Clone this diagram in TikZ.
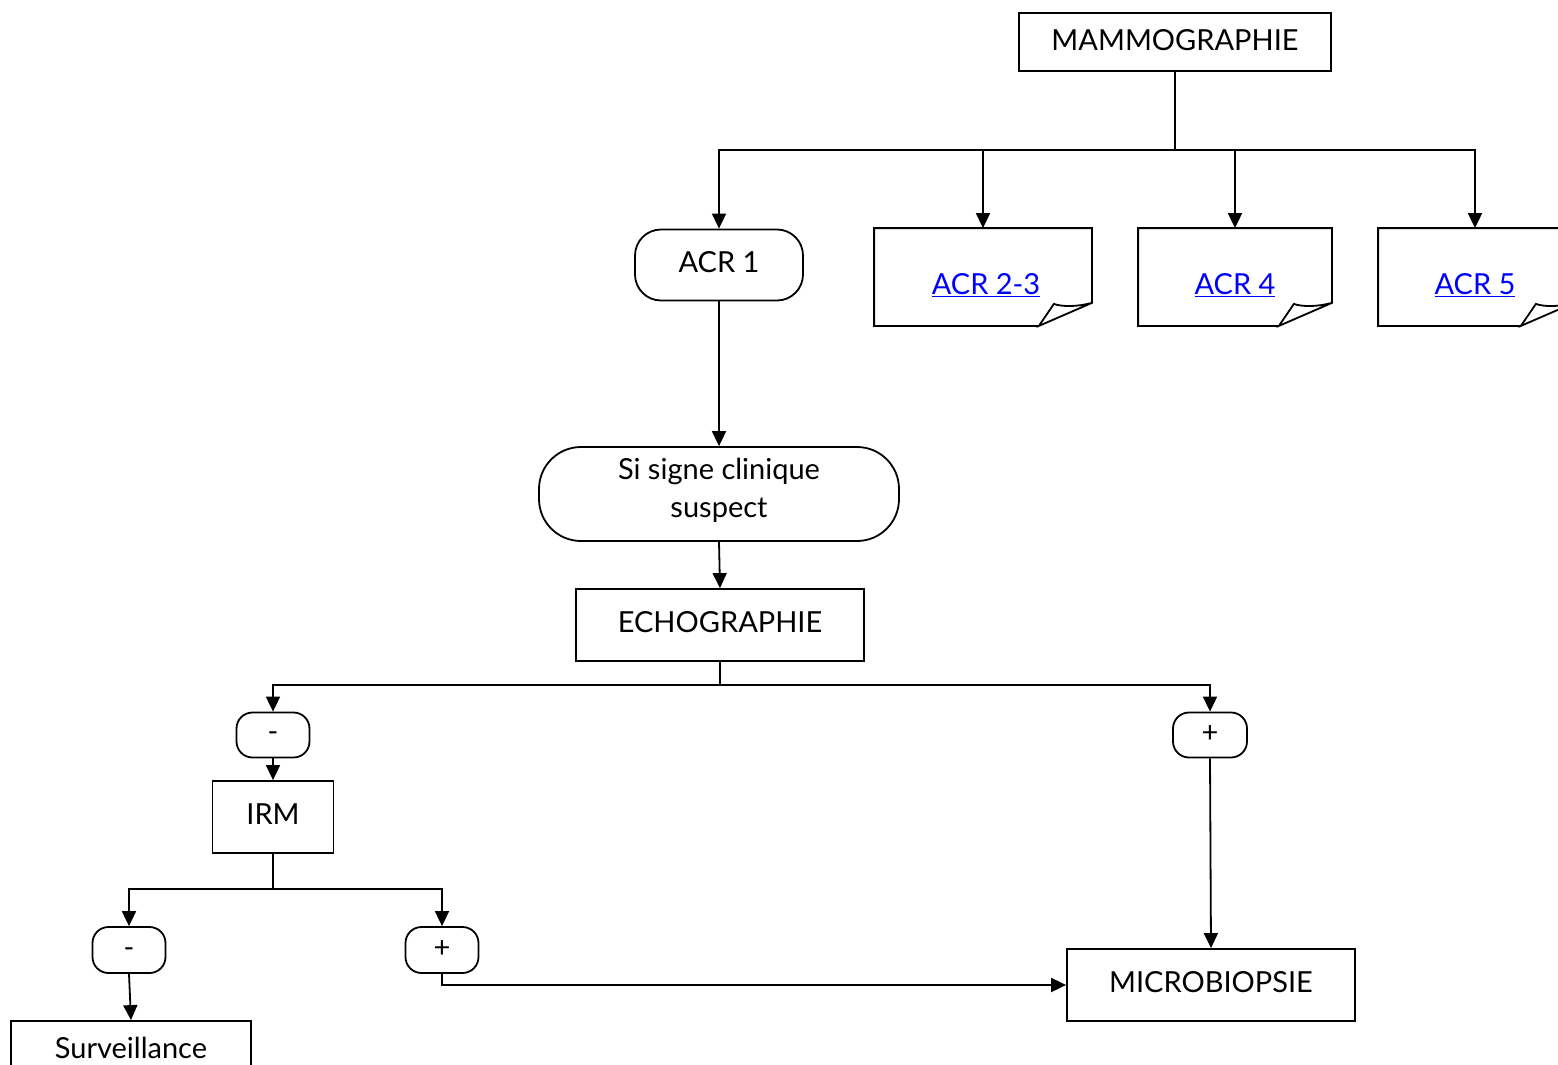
\documentclass[tikz,border=0pt]{standalone}
\usepackage{fontspec}
\setmainfont{Lato}
\usetikzlibrary{arrows.meta,calc}
\definecolor{linkblue}{RGB}{0,0,255}
\begin{document}
\begin{tikzpicture}[x=1pt,y=-1pt,
  line width=1.8pt,
  every node/.style={font=\fontsize{29}{38}\selectfont, inner sep=0pt, align=center},
  sz/.style 2 args={minimum width=#1, minimum height=#2},
  box/.style={draw, rectangle},
  pill/.style={draw, rounded corners=#1},
  doc/.style={rectangle},
  link/.style={text=linkblue},
  arr/.style={-{Triangle[length=15pt,width=14pt]}},
]
\clip (0,0) rectangle (1558,1065);
\fill[white] (0,0) rectangle (1558,1065);

% nodes
\node[box, sz={312}{58}] (mammo) at (1175,42) {};
\node (tmammo) at (1175,40) {MAMMOGRAPHIE};
\node[pill=26pt, sz={168}{71}] (acr1) at (719,265) {};
\node (tacr1) at (719,262) {ACR 1};
\node[doc, sz={216}{96}] (a23) at (983,277) {};
\node[doc, sz={192}{96}] (a4) at (1235,277) {};
\node[doc, sz={194}{96}] (a5) at (1476,277) {};
\node[link] (t23) at (986,285) {\underline{ACR 2-3}};
\node[link] (t4) at (1235,285) {\underline{ACR 4}};
\node[link] (t5) at (1475,285) {\underline{ACR 5}};
\node[pill=42pt, sz={360}{94}] (clin) at (719,494) {};
\node (tclin) at (719,490) {Si signe clinique\\suspect};
\node[box, sz={288}{72}] (echo) at (720,625) {};
\node (techo) at (720,622) {ECHOGRAPHIE};
\node[pill=16pt, sz={73}{45}] (em) at (273,735) {};
\node (tem) at (273,737) {-};
\node[pill=16pt, sz={74}{45}] (ep) at (1210,735) {};
\node (tep) at (1210,734) {+};
\node[box, sz={121}{72}] (irm) at (273,817) {};
\node (tirm) at (273,814) {IRM};
\node[pill=16pt, sz={73}{46}] (im) at (129,950) {};
\node (tim) at (129,953) {-};
\node[pill=16pt, sz={73}{46}] (ip) at (442,950) {};
\node (tip) at (442,949) {+};
\node[box, sz={240}{62}] (surv) at (131,1052) {};
\node (tsurv) at (131,1048) {Surveillance};
\node[box, sz={288}{72}] (micro) at (1211,985) {};
\node (tmicro) at (1211,982) {MICROBIOPSIE};

% folded-corner outlines of the document shapes
\foreach \n in {a23,a4,a5} {
  \draw[line join=miter]
    ($(\n.south east)+(-53,0)$) coordinate (f1)
    -- (\n.south west) -- (\n.north west) -- (\n.north east)
    -- ($(\n.south east)+(0,-23)$) coordinate (f2) -- (f1)
    -- ++(15,-22) .. controls +(8,3) and +(-15,4) .. (f2);
}

% connectors
\coordinate (j1) at (1175,150);
\coordinate (j2) at (720,685);
\coordinate (j3) at (273,889);
\draw (mammo.south) -- (j1);
\draw[arr] (j1) -| (acr1.north);
\draw[arr] (j1) -| (a23.north);
\draw[arr] (j1) -| (a4.north);
\draw[arr] (j1) -| (t5.north |- a5.north);
\draw[arr] (acr1.south) -- (clin.north);
\draw[arr] (clin.south) -- (echo.north);
\draw (echo.south) -- (j2);
\draw[arr] (j2) -| (em.north);
\draw[arr] (j2) -| (ep.north);
\draw[arr] (em.south) -- (irm.north);
\draw (irm.south) -- (j3);
\draw[arr] (j3) -| (im.north);
\draw[arr] (j3) -| (ip.north);
\draw[arr] (im.south) -- (surv.north);
\draw[arr] (ip.south) |- (micro.west);
\draw[arr] (ep.south) -- (micro.north);
\end{tikzpicture}
\end{document}
